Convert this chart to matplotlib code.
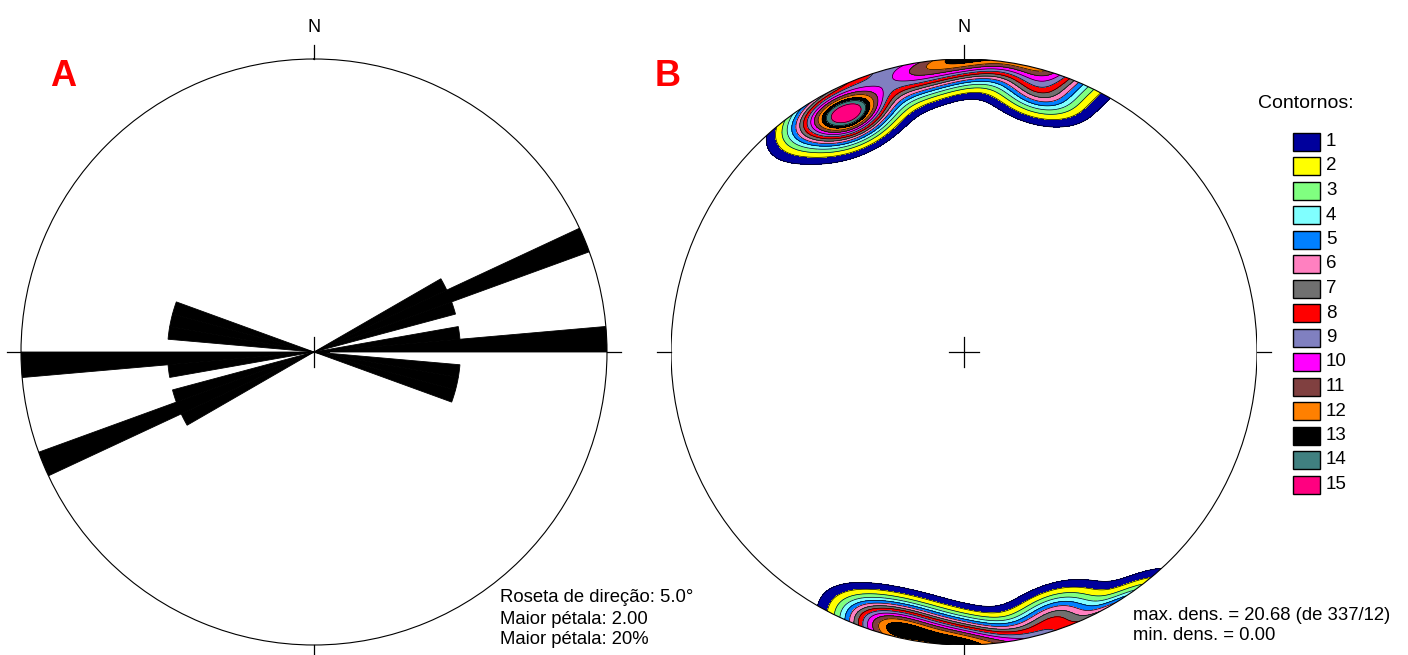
import numpy as np
import matplotlib.pyplot as plt
from matplotlib.patches import Circle, Rectangle

W, H = 1408, 655
plt.rcParams['font.family'] = ['Liberation Sans', 'DejaVu Sans']

# A: direções medidas (graus), roseta bidirecional
strikes = [62, 66, 68, 72, 82, 86, 88, 97, 102, 107]

# B: polos lidos no diagrama (trend / plunge, graus)
pole_trend = [334, 336, 328, 349, 357, 183, 191, 198, 161, 16]
pole_plunge = [12, 11, 6, 5, 1, 2, 5, 4, 5, 8]

BIN = 5.0    # classe da roseta (graus)
K = 90.0     # concentração do núcleo de contagem

contour_labels = [str(i) for i in range(1, 16)]
contour_colors = ['#00009C', '#FFFF00', '#80FF80', '#80FFFF', '#0080FF',
                  '#FF80C0', '#707070', '#FF0000', '#8080C0', '#FF00FF',
                  '#804040', '#FF8000', '#000000', '#408080', '#FF0080']

info_rosa = ['Roseta de direção: 5.0°', 'Maior pétala: 2.00', 'Maior pétala: 20%']
info_dens = ['max. dens. = 20.68 (de 337/12)', 'min. dens. = 0.00']

R = 293
CY = 352
CX = [314, 964]


def box(cx, cy, r):
    return [(cx - r) / W, 1 - (cy + r) / H, 2 * r / W, 2 * r / H]


fig = plt.figure(figsize=(W / 100, H / 100), dpi=100)

# A - roseta de direções
ax1 = fig.add_axes(box(CX[0], CY, R), projection='polar')
ax1.set_theta_zero_location('N')
ax1.set_theta_direction(-1)
edges = np.arange(0, 180 + BIN, BIN)
counts, _ = np.histogram(np.mod(strikes, 180), bins=edges)
centers = np.deg2rad(edges[:-1] + BIN / 2)
for off in (0, np.pi):
    ax1.bar(centers + off, counts, width=np.deg2rad(BIN), bottom=0,
            color='black', edgecolor='black', linewidth=0.6)
ax1.set_ylim(0, counts.max())
ax1.set_xticks([])
ax1.set_yticks([])
ax1.grid(False)
ax1.spines['polar'].set_linewidth(0.8)

# B - densidade dos polos (Schmidt, hemisfério inferior)
ax2 = fig.add_axes(box(CX[1], CY, R))
ax2.set_xlim(-1, 1)
ax2.set_ylim(-1, 1)
ax2.axis('off')

g = np.linspace(-1.03, 1.03, 621)
X, Y = np.meshgrid(g, g)
rr = np.clip(np.hypot(X, Y), 0, 1)
th = 2 * np.arcsin(rr / np.sqrt(2))
az = np.arctan2(X, Y)
gx = np.sin(th) * np.sin(az)
gy = np.sin(th) * np.cos(az)
gz = np.cos(th)

tr = np.deg2rad(pole_trend)
pl = np.deg2rad(pole_plunge)
px = np.cos(pl) * np.sin(tr)
py = np.cos(pl) * np.cos(tr)
pz = np.sin(pl)

dens = np.zeros_like(X)
for a, b, c in zip(px, py, pz):
    dens += np.exp(K * (np.abs(gx * a + gy * b + gz * c) - 1))

dmax = dens.max()
lev = np.append(dmax * np.arange(1, 16) / 16.5, dmax * 1.01)
cs = ax2.contourf(X, Y, dens, levels=lev, colors=contour_colors)
cl = ax2.contour(X, Y, dens, levels=lev[:-1], colors='black', linewidths=0.5)
clip = Circle((0, 0), 1, transform=ax2.transData)
cs.set_clip_path(clip)
cl.set_clip_path(clip)
ax2.add_patch(Circle((0, 0), 1, fill=False, lw=0.8, ec='black'))

# marcas, cruz central e textos
ov = fig.add_axes([0, 0, 1, 1])
ov.set_xlim(0, W)
ov.set_ylim(H, 0)
ov.axis('off')
for cx in CX:
    kw = dict(color='black', lw=0.9)
    ov.plot([cx, cx], [CY - R - 14, CY - R], **kw)
    ov.plot([cx, cx], [CY + R, CY + R + 14], **kw)
    ov.plot([cx - R - 14, cx - R], [CY, CY], **kw)
    ov.plot([cx + R, cx + R + 14], [CY, CY], **kw)
    ov.plot([cx - 15, cx + 15], [CY, CY], **kw)
    ov.plot([cx, cx], [CY - 15, CY + 15], **kw)
    ov.text(cx, 28, 'N', ha='center', va='center', fontsize=13)

ov.text(50, 76, 'A', color='red', fontsize=26, fontweight='bold', ha='left', va='center')
ov.text(655, 76, 'B', color='red', fontsize=26, fontweight='bold', ha='left', va='center')

for i, s in enumerate(info_rosa):
    ov.text(500, 598 + 21 * i, s, fontsize=13.3, ha='left', va='center')
for i, s in enumerate(info_dens):
    ov.text(1133, 615 + 21 * i, s, fontsize=13.3, ha='left', va='center')

ov.text(1258, 104, 'Contornos:', fontsize=14, ha='left', va='center')
for i, (lab, col) in enumerate(zip(contour_labels, contour_colors)):
    y = 141.5 + 24.5 * i
    ov.add_patch(Rectangle((1293, y - 9), 27, 18, fc=col, ec='black', lw=1))
    ov.text(1326, y, lab, fontsize=13.5, ha='left', va='center')

fig.savefig('out.png', dpi=100)
